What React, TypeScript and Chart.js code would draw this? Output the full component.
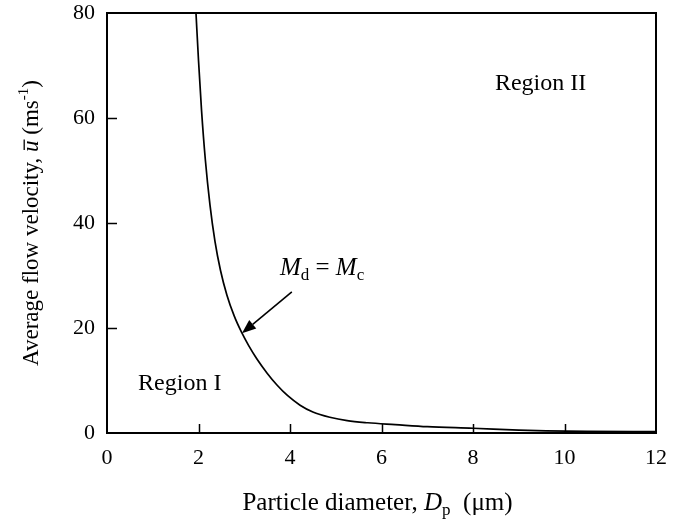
import React, { useEffect, useRef } from "react";
import { Chart, registerables } from "chart.js";

Chart.register(...registerables);

// Data
const diameters = [1.945, 2.0, 2.066, 2.15, 2.25, 2.36, 2.48, 2.62, 2.78, 2.94, 3.1, 3.27, 3.5, 3.72, 3.95, 4.22, 4.5, 4.87, 5.25, 5.7, 6.3, 7.0, 8.0, 9.0, 9.6, 10.5, 12];
const velocities = [80, 71, 61.5, 52, 43.5, 36.5, 31, 26.3, 22.3, 19.2, 16.6, 14.2, 11.4, 9.1, 7.1, 5.3, 4.0, 3.0, 2.35, 1.95, 1.6, 1.2, 0.9, 0.55, 0.4, 0.3, 0.25];

const xTickValues = [0, 2, 4, 6, 8, 10, 12];
const yTickValues = [0, 20, 40, 60, 80];

const regionOneLabel = "Region I";
const regionTwoLabel = "Region II";
const xTitleParts = ["Particle diameter, ", "D", "p", "  (\u03BCm)"];
const yTitleParts = ["Average flow velocity, ", "u", " (ms", "-1", ")"];
const curveLabelParts = ["M", "d", " = ", "M", "c"];

// annotation anchors (data coordinates)
const regionOneAt = { x: 0.68, y: 8.2 };
const regionTwoAt = { x: 8.48, y: 65.3 };
const curveLabelAt = { x: 3.78, y: 30.1 };
const arrowFrom = { x: 4.04, y: 26.9 };
const arrowTo = { x: 2.95, y: 19.0 };

const SERIF = "'Liberation Serif', 'DejaVu Serif', serif";

type Seg = { text: string; size: number; italic?: boolean; dy?: number; bar?: boolean };

function drawRich(ctx: CanvasRenderingContext2D, segs: Seg[], x: number, y: number, align: "left" | "center") {
  ctx.save();
  ctx.textBaseline = "alphabetic";
  ctx.textAlign = "left";
  ctx.fillStyle = "#000";
  let total = 0;
  for (const s of segs) {
    ctx.font = `${s.italic ? "italic " : ""}${s.size}px ${SERIF}`;
    total += ctx.measureText(s.text).width;
  }
  let cx = align === "center" ? x - total / 2 : x;
  for (const s of segs) {
    ctx.font = `${s.italic ? "italic " : ""}${s.size}px ${SERIF}`;
    const w = ctx.measureText(s.text).width;
    ctx.fillText(s.text, cx, y + (s.dy || 0));
    if (s.bar) {
      ctx.strokeStyle = "#000";
      ctx.lineWidth = 1.3;
      ctx.beginPath();
      ctx.moveTo(cx + 2, y - s.size * 0.6);
      ctx.lineTo(cx + w + 1, y - s.size * 0.6);
      ctx.stroke();
    }
    cx += w;
  }
  ctx.restore();
}

const decorPlugin = {
  id: "decor",
  afterDraw(chart: any) {
    const ctx: CanvasRenderingContext2D = chart.ctx;
    const { left, right, top, bottom } = chart.chartArea;
    const xs = chart.scales.x;
    const ys = chart.scales.y;
    ctx.save();
    // frame
    ctx.strokeStyle = "#000";
    ctx.lineWidth = 2;
    ctx.strokeRect(left, top, right - left, bottom - top);
    // inward ticks
    ctx.lineWidth = 1.5;
    ctx.beginPath();
    for (const v of xTickValues) {
      if (v === 0 || v === 12) continue;
      const px = Math.round(xs.getPixelForValue(v)) + 0.5;
      ctx.moveTo(px, bottom);
      ctx.lineTo(px, bottom - 9);
    }
    for (const v of yTickValues) {
      if (v === 0 || v === 80) continue;
      const py = Math.round(ys.getPixelForValue(v)) + 0.5;
      ctx.moveTo(left, py);
      ctx.lineTo(left + 10, py);
    }
    ctx.stroke();

    // region labels
    drawRich(ctx, [{ text: regionOneLabel, size: 24 }], xs.getPixelForValue(regionOneAt.x), ys.getPixelForValue(regionOneAt.y), "left");
    drawRich(ctx, [{ text: regionTwoLabel, size: 24 }], xs.getPixelForValue(regionTwoAt.x), ys.getPixelForValue(regionTwoAt.y), "left");

    // curve label
    drawRich(
      ctx,
      [
        { text: curveLabelParts[0], size: 25, italic: true },
        { text: curveLabelParts[1], size: 17, dy: 5 },
        { text: curveLabelParts[2], size: 25 },
        { text: curveLabelParts[3], size: 25, italic: true },
        { text: curveLabelParts[4], size: 17, dy: 5 },
      ],
      xs.getPixelForValue(curveLabelAt.x),
      ys.getPixelForValue(curveLabelAt.y),
      "left"
    );

    // arrow
    const x0 = xs.getPixelForValue(arrowFrom.x);
    const y0 = ys.getPixelForValue(arrowFrom.y);
    const x1 = xs.getPixelForValue(arrowTo.x);
    const y1 = ys.getPixelForValue(arrowTo.y);
    const ang = Math.atan2(y1 - y0, x1 - x0);
    const head = 14;
    const hw = 5.5;
    const bx = x1 - head * Math.cos(ang);
    const by = y1 - head * Math.sin(ang);
    ctx.lineWidth = 1.6;
    ctx.beginPath();
    ctx.moveTo(x0, y0);
    ctx.lineTo(bx, by);
    ctx.stroke();
    ctx.fillStyle = "#000";
    ctx.beginPath();
    ctx.moveTo(x1, y1);
    ctx.lineTo(bx + hw * Math.sin(ang), by - hw * Math.cos(ang));
    ctx.lineTo(bx - hw * Math.sin(ang), by + hw * Math.cos(ang));
    ctx.closePath();
    ctx.fill();

    // x title
    drawRich(
      ctx,
      [
        { text: xTitleParts[0], size: 25 },
        { text: xTitleParts[1], size: 25, italic: true },
        { text: xTitleParts[2], size: 17, dy: 5 },
        { text: xTitleParts[3], size: 25 },
      ],
      (left + right) / 2 - 4,
      510,
      "center"
    );

    // y title (rotated)
    ctx.save();
    ctx.translate(38, (top + bottom) / 2);
    ctx.rotate(-Math.PI / 2);
    drawRich(
      ctx,
      [
        { text: yTitleParts[0], size: 23 },
        { text: yTitleParts[1], size: 23, italic: true, bar: true },
        { text: yTitleParts[2], size: 23 },
        { text: yTitleParts[3], size: 15, dy: -10 },
        { text: yTitleParts[4], size: 23 },
      ],
      0,
      0,
      "center"
    );
    ctx.restore();
    ctx.restore();
  },
};

export default function App() {
  const ref = useRef<HTMLCanvasElement | null>(null);
  useEffect(() => {
    document.body.style.margin = "0";
    if (!ref.current) return;
    const chart = new Chart(ref.current, {
      type: "line",
      data: {
        datasets: [
          {
            data: diameters.map((d, i) => ({ x: d, y: velocities[i] })),
            borderColor: "#000",
            borderWidth: 1.7,
            pointRadius: 0,
            fill: false,
            cubicInterpolationMode: "monotone",
          },
        ],
      },
      options: {
        animation: false,
        responsive: false,
        maintainAspectRatio: false,
        layout: { padding: { top: 13, right: 17, left: 0, bottom: 0 } },
        plugins: { legend: { display: false }, tooltip: { enabled: false } },
        scales: {
          x: {
            type: "linear",
            min: 0,
            max: 12,
            afterBuildTicks: (s: any) => {
              s.ticks = xTickValues.map((v) => ({ value: v }));
            },
            afterFit: (s: any) => {
              s.height = 91;
              s.paddingLeft = 0;
              s.paddingRight = 0;
            },
            grid: { display: false, drawTicks: false },
            border: { display: false },
            ticks: { color: "#000", padding: 12, maxRotation: 0, font: { family: SERIF, size: 22 } },
          },
          y: {
            type: "linear",
            min: 0,
            max: 80,
            afterBuildTicks: (s: any) => {
              s.ticks = yTickValues.map((v) => ({ value: v }));
            },
            afterFit: (s: any) => {
              s.width = 107;
              s.paddingTop = 0;
              s.paddingBottom = 0;
            },
            grid: { display: false, drawTicks: false },
            border: { display: false },
            ticks: { color: "#000", padding: 12, font: { family: SERIF, size: 22 } },
          },
        },
      },
      plugins: [decorPlugin],
    } as any);
    return () => chart.destroy();
  }, []);
  return (
    <div style={{ width: 673, height: 524 }}>
      <canvas ref={ref} width={673} height={524} style={{ display: "block" }} />
    </div>
  );
}
